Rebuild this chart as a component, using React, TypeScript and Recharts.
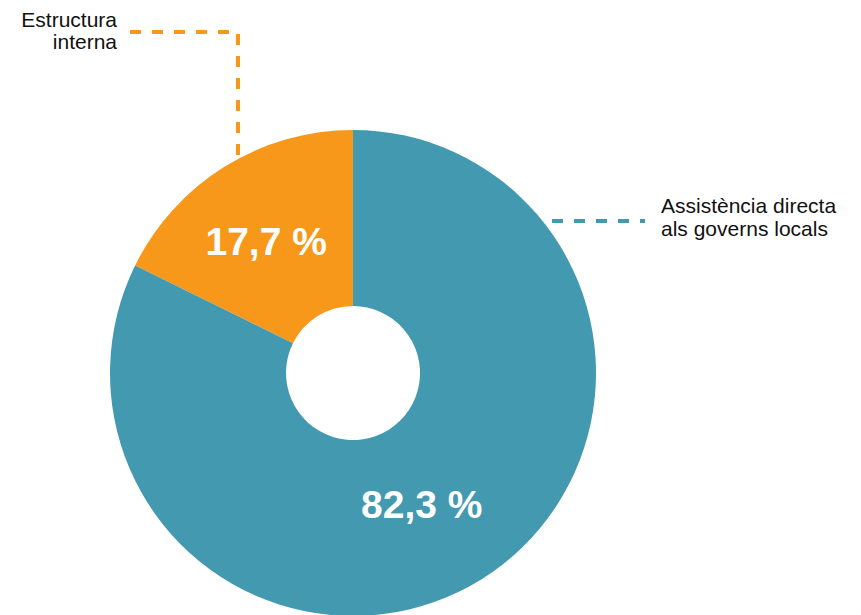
import React from 'react';
import { PieChart, Pie, Cell } from 'recharts';

const categories = ['Estructura interna', 'Assistència directa als governs locals'];
const shares = [17.7, 82.3];
const valueLabels = ['17,7 %', '82,3 %'];
const colors = ['#F7981A', '#4299B0'];

const data = categories.map((name, i) => ({ name, value: shares[i], label: valueLabels[i] }));

const RADIAN = Math.PI / 180;
const FONT = '"Liberation Sans", Arial, Helvetica, sans-serif';
// small nudges so the value labels sit where the original has them
const labelNudge = [-5, -13];

function renderLabel(props: any) {
  const { cx, cy, midAngle, innerRadius, outerRadius, index } = props;
  const r = (innerRadius + outerRadius) / 2;
  const x = cx + r * Math.cos(-midAngle * RADIAN) + labelNudge[index];
  const y = cy + r * Math.sin(-midAngle * RADIAN);
  const dash = '11 11';
  return (
    <g key={`lbl-${index}`}>
      <text
        x={x}
        y={y}
        fill="#fff"
        textAnchor="middle"
        dominantBaseline="central"
        fontFamily={FONT}
        fontWeight="bold"
        fontSize={39}
      >
        {data[index].label}
      </text>
      {index === 0 ? (
        <g>
          <polyline
            points={`${cx - 115},${cy - 218} ${cx - 115},${cy - 341} ${cx - 223},${cy - 341}`}
            fill="none"
            stroke={colors[0]}
            strokeWidth={4}
            strokeDasharray={dash}
          />
          <text x={117} y={27} textAnchor="end" fontFamily={FONT} fontSize={21} fill="#111">
            Estructura
          </text>
          <text x={117} y={49} textAnchor="end" fontFamily={FONT} fontSize={21} fill="#111">
            interna
          </text>
        </g>
      ) : (
        <g>
          <line
            x1={cx + 199}
            y1={cy - 152}
            x2={cx + 292}
            y2={cy - 152}
            stroke={colors[1]}
            strokeWidth={4}
            strokeDasharray={dash}
          />
          <text x={661} y={213} fontFamily={FONT} fontSize={21} fill="#111">
            Assistència directa
          </text>
          <text x={661} y={236} fontFamily={FONT} fontSize={21} fill="#111">
            als governs locals
          </text>
        </g>
      )}
    </g>
  );
}

export default function App() {
  return (
    <div style={{ position: 'absolute', left: 0, top: 0, width: 861, height: 615, background: '#fff' }}>
      <PieChart width={861} height={615} margin={{ top: 0, right: 0, bottom: 0, left: 0 }}>
        <Pie
          data={data}
          dataKey="value"
          nameKey="name"
          cx={353}
          cy={373}
          innerRadius={67}
          outerRadius={243}
          startAngle={90}
          endAngle={450}
          stroke="none"
          labelLine={false}
          label={renderLabel}
          isAnimationActive={false}
        >
          {data.map((d, i) => (
            <Cell key={d.name} fill={colors[i]} />
          ))}
        </Pie>
      </PieChart>
    </div>
  );
}
